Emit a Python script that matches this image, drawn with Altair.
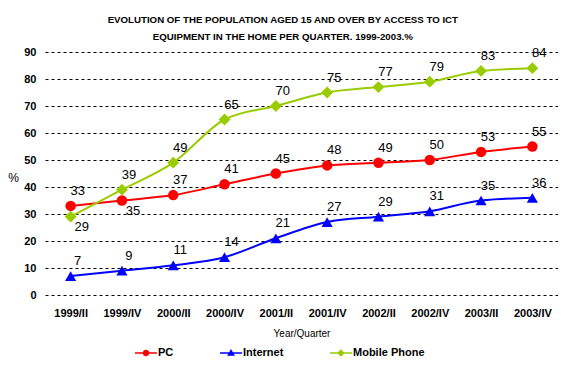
import altair as alt
import pandas as pd

quarters = ["1999/II", "1999/IV", "2000/II", "2000/IV", "2001/II",
            "2001/IV", "2002/II", "2002/IV", "2003/II", "2003/IV"]
series_names = ["PC", "Internet", "Mobile Phone"]
pc = [33, 35, 37, 41, 45, 48, 49, 50, 53, 55]
internet = [7, 9, 11, 14, 21, 27, 29, 31, 35, 36]
mobile = [29, 39, 49, 65, 70, 75, 77, 79, 83, 84]
colors = ["#FF0000", "#0000FF", "#99CC00"]
# labels placed below their point instead of above
below_labels = [("PC", "1999/IV"), ("Mobile Phone", "1999/II")]

rows = []
for name, vals in zip(series_names, [pc, internet, mobile]):
    for q, v in zip(quarters, vals):
        rows.append({"Series": name, "Quarter": q, "Value": v,
                     "pos": "below" if (name, q) in below_labels else "above"})
df = pd.DataFrame(rows)

FONT = "Liberation Sans"

x = alt.X("Quarter:N", sort=quarters,
          scale=alt.Scale(type="point", padding=0.5),
          axis=alt.Axis(title="Year/Quarter", labelAngle=0, ticks=False, domain=False,
                        grid=False, labelFont=FONT, labelFontSize=11, labelFontWeight="bold",
                        labelColor="black", labelPadding=12,
                        titleFont=FONT, titleFontSize=10, titleFontWeight="normal",
                        titleColor="black", titleY=38, titleBaseline="middle"))
y = alt.Y("Value:Q", scale=alt.Scale(domain=[0, 90], nice=False),
          axis=alt.Axis(title="%", values=list(range(0, 91, 10)), ticks=False, domain=False,
                        grid=True, gridDash=[3, 3], gridColor="black", gridWidth=1,
                        labelFont=FONT, labelFontSize=11, labelFontWeight="bold",
                        labelColor="black", labelPadding=9,
                        titleFont=FONT, titleFontSize=12, titleFontWeight="normal",
                        titleColor="black", titleAngle=0, titleX=-32, titleY=125,
                        titleAlign="center", titleBaseline="middle"))

color_scale = alt.Scale(domain=series_names, range=colors)

base = alt.Chart(df)

lines = base.mark_line(strokeWidth=2, interpolate="monotone").encode(
    x=x, y=y,
    color=alt.Color("Series:N", scale=color_scale, legend=None),
    detail="Series:N",
)

points = base.mark_point(filled=True, opacity=1).encode(
    x=x, y=y,
    color=alt.Color("Series:N", scale=color_scale, legend=None),
    shape=alt.Shape("Series:N", scale=alt.Scale(domain=series_names,
                    range=["circle", "triangle-up", "diamond"]), legend=None),
    size=alt.Size("Series:N", scale=alt.Scale(domain=series_names, range=[110, 140, 140]),
                  legend=None),
)

legend_paths = [
    "M-1,-0.06H1V0.06H-1Z M-0.3,0A0.3,0.3 0 1,1 0.3,0A0.3,0.3 0 1,1 -0.3,0Z",
    "M-1,-0.06H1V0.06H-1Z M0,-0.36L0.36,0.26H-0.36Z",
    "M-1,-0.06H1V0.06H-1Z M0,-0.34L0.34,0L0,0.34L-0.34,0Z",
]

legend_layer = base.transform_filter("false").mark_point(filled=True, opacity=1).encode(
    x=x, y=y,
    color=alt.Color("Series:N", scale=color_scale,
                    legend=alt.Legend(title=None, orient="none", direction="horizontal",
                                      legendX=90, legendY=290, columnPadding=46,
                                      symbolSize=484, symbolOpacity=1, symbolStrokeWidth=0,
                                      labelFont=FONT, labelFontSize=11, labelFontWeight="bold",
                                      labelColor="black", labelOffset=1, padding=0)),
    shape=alt.Shape("Series:N", scale=alt.Scale(domain=series_names, range=legend_paths)),
)

labels_above = base.transform_filter(alt.datum.pos == "above").mark_text(
    font=FONT, fontSize=13, color="black", dx=7, dy=-15).encode(
    x=x, y=y, text="Value:Q")
labels_below = base.transform_filter(alt.datum.pos == "below").mark_text(
    font=FONT, fontSize=13, color="black", dx=11, dy=10).encode(
    x=x, y=y, text="Value:Q")

chart = alt.layer(lines, points, legend_layer, labels_above, labels_below).resolve_scale(
    shape="independent", size="independent"
).resolve_legend(color="independent", shape="independent").properties(
    width=513, height=243,
    autosize=alt.AutoSizeParams(type="none"),
    padding={"left": 37, "top": 44, "right": 0, "bottom": 66},
    title=alt.TitleParams(
        text=["EVOLUTION OF THE POPULATION AGED 15 AND OVER BY ACCESS TO ICT",
              "EQUIPMENT IN THE HOME PER QUARTER. 1999-2003.%"],
        font=FONT, fontSize=9.7, fontWeight="bold", color="black",
        anchor="middle", frame="bounds", offset=4, lineHeight=17),
).configure_view(stroke=None)

chart.save("out.html", embed_options={"renderer": "svg", "actions": False})
